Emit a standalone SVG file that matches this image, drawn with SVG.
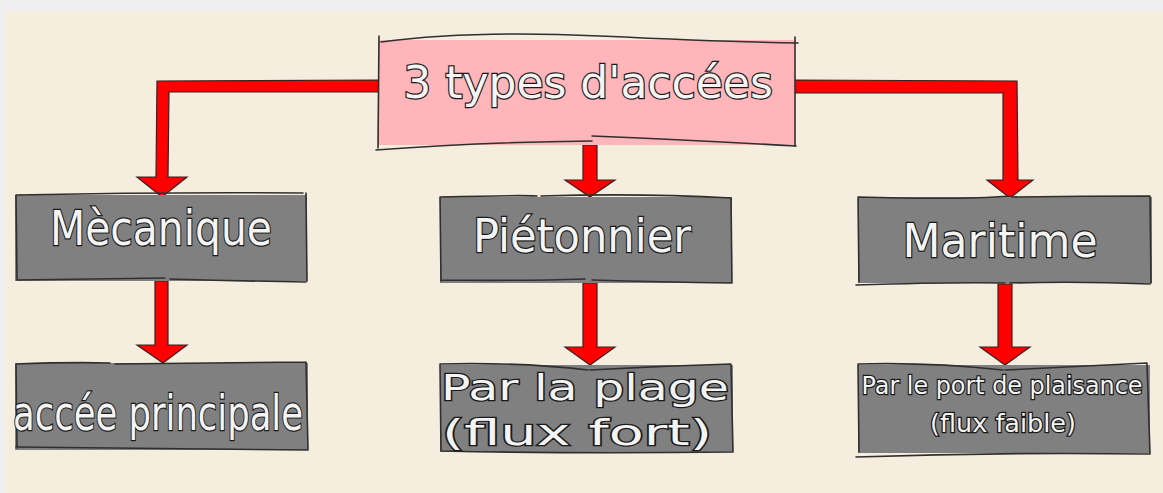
<svg xmlns="http://www.w3.org/2000/svg" width="1163" height="493" viewBox="0 0 1163 493">
<defs>
<style>
.bg{fill:#f5eedf}
.pink{fill:#ffb5b9}
.grey{fill:#808080}
.edge{fill:none;stroke:#2f2f2f;stroke-width:1.6;stroke-linecap:round}
.arrow{fill:#ff0000;stroke:#3a2020;stroke-width:1.2;stroke-linejoin:miter}
.lbl{font-family:"DejaVu Sans","Liberation Sans",sans-serif;fill:#f4f4f4;stroke:#1a1a1a;stroke-width:2.4;paint-order:stroke;text-anchor:middle}
</style>
</defs>
<rect x="0" y="0" width="1163" height="493" fill="#efefef"/>
<rect class="bg" x="5" y="11" width="1158" height="482"/>

<g id="connectors">
  <path class="arrow" d="M379,80 L157,81 L156,177 L137,177 L162,197 L187,177 L168,177 L169,92 L379,92 Z"/>
  <path class="arrow" d="M583,145 L583,180 L565,180 L590,197 L615,180 L597,180 L597,145 Z"/>
  <path class="arrow" d="M794,80 L1017,81 L1018,180 L1033,180 L1010,198 L987,180 L1003,180 L1003,93 L794,93 Z"/>
  <path class="arrow" d="M155,281 L155,345 L137,345 L163,363 L187,345 L168,345 L168,281 Z"/>
  <path class="arrow" d="M583,283 L583,347 L565,347 L590,365 L615,347 L597,347 L597,283 Z"/>
  <path class="arrow" d="M998,284 L998,347 L980,347 L1005,365 L1030,347 L1012,347 L1012,284 Z"/>
</g>

<g id="n-root">
  <rect class="pink" x="378" y="40" width="417" height="105"/>
  <path class="edge" d="M381,42 Q470,30 600,36 T798,43"/>
  <path class="edge" d="M379,36 L378,148"/>
  <path class="edge" d="M795,37 L795,146"/>
  <path class="edge" d="M376,150 Q480,142 592,141 M592,136 Q690,140 796,146"/>
  <text class="lbl" x="588" y="98" font-size="44">3 types d'accées</text>
</g>

<g id="n-meca">
  <rect class="grey" x="15" y="195" width="292" height="86"/>
  <path class="edge" d="M16,195 Q160,192 303,193 M16,195 L17,280 M306,193 L307,281 M17,280 Q90,279 165,278 M170,279 Q240,281 306,282"/>
  <text class="lbl" x="161" y="245" font-size="48" textLength="222" lengthAdjust="spacingAndGlyphs">Mècanique</text>
</g>

<g id="n-pieton">
  <rect class="grey" x="440" y="197" width="292" height="86"/>
  <path class="edge" d="M440,197 Q520,195 537,196 M541,196 Q640,193 731,198 M440,197 L441,281 M731,198 L732,283 M441,280 Q520,281 585,279 M592,280 Q660,282 732,283"/>
  <text class="lbl" x="582" y="252" font-size="46" textLength="218" lengthAdjust="spacingAndGlyphs">Piétonnier</text>
</g>

<g id="n-mari">
  <rect class="grey" x="858" y="197" width="294" height="86"/>
  <path class="edge" d="M858,197 Q960,200 1010,196 M1012,197 Q1080,196 1150,196 M858,198 L859,282 M1150,197 L1151,283 M856,285 Q950,282 1005,283 M1010,283 Q1080,281 1150,284"/>
  <text class="lbl" x="1000" y="257" font-size="46" textLength="195" lengthAdjust="spacingAndGlyphs">Maritime</text>
</g>

<g id="n-acc">
  <rect class="grey" x="15" y="363" width="293" height="87"/>
  <path class="edge" d="M16,364 Q70,362 110,363 M115,364 Q220,363 306,362 M16,364 L17,448 M306,362 L308,450 M16,447 Q160,449 308,450"/>
  <text class="lbl" x="158" y="430" font-size="48" textLength="290" lengthAdjust="spacingAndGlyphs">accée principale</text>
</g>

<g id="n-plage">
  <rect class="grey" x="440" y="365" width="293" height="87"/>
  <path class="edge" d="M440,364 Q520,362 588,370 M590,370 Q660,366 731,364 M440,365 L441,451 M731,365 L733,452 M441,451 Q580,454 733,452"/>
  <text class="lbl" x="585" y="400" font-size="36" textLength="288" lengthAdjust="spacingAndGlyphs">Par la plage</text>
  <text class="lbl" x="577" y="445" font-size="36" textLength="270" lengthAdjust="spacingAndGlyphs">(flux fort)</text>
</g>

<g id="n-port">
  <rect class="grey" x="858" y="365" width="292" height="88"/>
  <path class="edge" d="M858,364 Q930,362 1003,370 M1005,370 Q1080,366 1147,363 M858,365 L859,452 M1147,364 L1150,454 M856,457 Q1000,452 1150,454"/>
  <text class="lbl" x="1002" y="394" font-size="24" textLength="281" lengthAdjust="spacingAndGlyphs">Par le port de plaisance</text>
  <text class="lbl" x="1003" y="432" font-size="24" textLength="146" lengthAdjust="spacingAndGlyphs">(flux faible)</text>
</g>
</svg>
